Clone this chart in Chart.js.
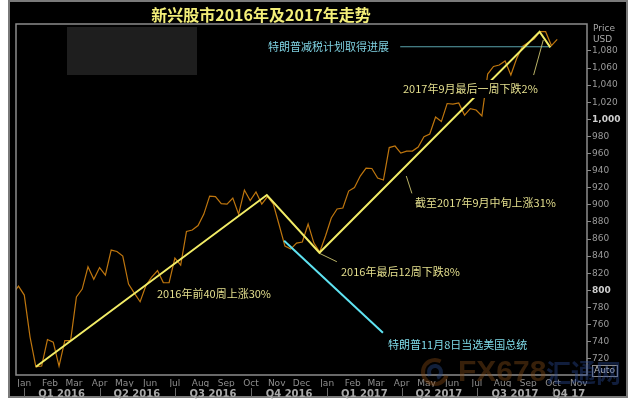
<!DOCTYPE html>
<html>
<head>
<meta charset="utf-8">
<script src="https://cdn.jsdelivr.net/npm/chart.js@4.4.1/dist/chart.umd.min.js"></script>
<style>
  html, body { margin: 0; padding: 0; background: #fff; }
  #wrap { width: 640px; height: 400px; }
</style>
</head>
<body>
<div id="wrap"><canvas id="chart" width="640" height="400"></canvas></div>
<script>
// weekly closes, first point = 2015-12-18 (day -14 from 2016-01-01)
const firstWeekDay = -14;
const price = [
  795.7, 805.0, 794.5, 745.4, 710.6, 711.5, 742.5, 739.5, 711.5, 741.3,
  741.3, 792.2, 801.5, 827.6, 812.9, 826.7, 817.9, 847.1, 845.4, 840.1,
  807.4, 796.8, 786.7, 805.6, 815.6, 823.2, 809.1, 808.9, 837.8, 829.6,
  868.8, 870.5, 875.8, 889.2, 910.3, 909.7, 901.5, 900.9, 908.0, 889.2,
  917.3, 905.0, 915.0, 900.9, 909.7, 900.9, 876.4, 851.8, 848.3, 855.3,
  856.5, 877.5, 855.3, 844.8, 863.5, 884.6, 895.1, 896.3, 916.1, 920.2,
  933.7, 943.0, 942.5, 931.3, 929.0, 967.0, 968.8, 960.6, 962.9, 962.9,
  967.6, 979.7, 982.8, 1002.7, 997.4, 1018.5, 1017.9, 1019.1, 1005.0, 1012.6,
  1010.9, 1003.9, 1053.0, 1061.8, 1063.5, 1068.2, 1051.8, 1071.1, 1085.2, 1089.8,
  1093.9, 1102.5, 1102.5, 1086.3, 1093.6
];

// trend lines (days since 2016-01-01, USD)
const trendDays = [14.1, 293.1, 356.7, 622.7, 635.7];
const trendVals = [710.6, 911.5, 844.0, 1102.5, 1084.2];
const leaderDays = [[356.7, 377.7], [461.6, 468.4], [615.5, 627.2]];
const leaderVals = [[843.3, 833.5], [933.7, 913.4], [1051.8, 1092.8]];
const taxDays = [454.3, 635.7];
const taxVals = [1084.9, 1084.9];
const electDays = [314.0, 433.4];
const electVals = [858.0, 750.4];

// axes
const monthDays = [0,31,60,91,121,152,182,213,244,274,305,335,366,397,425,456,486,517,547,578,609,639,670];
const monthLabels = ['Jan','Feb','Mar','Apr','May','Jun','Jul','Aug','Sep','Oct','Nov','Dec',
                     'Jan','Feb','Mar','Apr','May','Jun','Jul','Aug','Sep','Oct','Nov'];
const quarterMid = [45,136,228,320,411,501,593,658];
const quarterLabels = ['Q1 2016','Q2 2016','Q3 2016','Q4 2016','Q1 2017','Q2 2017','Q3 2017','Q4 17'];
const quarterBounds = [0,91,182,274,366,456,547,639];
const yTicks = [720,740,760,780,800,820,840,860,880,900,920,940,960,980,1000,1020,1040,1060,1080];

const title = '新兴股市2016年及2017年走势';
const notes = [
  {text:'2016年前40周上涨30%', x:157, y:294, color:'#e4df8e'},
  {text:'2016年最后12周下跌8%', x:341, y:272, color:'#e4df8e'},
  {text:'截至2017年9月中旬上涨31%', x:415, y:203, color:'#e4df8e'},
  {text:'2017年9月最后一周下跌2%', x:403, y:89, color:'#e4df8e'},
  {text:'特朗普减税计划取得进展', x:268, y:47, color:'#7fd3e3'},
  {text:'特朗普11月8日当选美国总统', x:388, y:345, color:'#7fdbe9'}
];

const pts = (xs, ys) => xs.map((x, i) => ({x: x, y: ys[i]}));
const priceData = price.map((v, i) => ({x: firstWeekDay + 7 * i, y: v}));

const CJK = '"Noto Sans CJK SC", "Noto Sans", sans-serif';
const isBold = v => v === 1000 || v === 800;

const frame = {
  id: 'frame',
  beforeDraw(chart) {
    const c = chart.ctx;
    c.save();
    c.fillStyle = '#fff';
    c.fillRect(0, 0, 640, 400);
    c.fillStyle = '#000';
    c.fillRect(9, 1, 618, 396);
    c.strokeStyle = '#7a7a7a';
    c.lineWidth = 2;
    c.strokeRect(9, 1, 618, 396);
    // title
    c.fillStyle = '#f3ee78';
    c.font = 'bold 16px ' + CJK;
    c.textAlign = 'center';
    c.textBaseline = 'middle';
    c.fillText(title, 261, 15);
    // blurred logo box
    c.fillStyle = '#1e1e1e';
    c.fillRect(67, 27, 130, 48);
    c.restore();
  },
  afterDatasetsDraw(chart) {
    const c = chart.ctx, a = chart.chartArea;
    c.save();
    c.font = '11px ' + CJK;
    c.textBaseline = 'middle';
    c.textAlign = 'left';
    notes.forEach(n => {
      const w = c.measureText(n.text).width;
      c.fillStyle = '#000';
      c.fillRect(n.x - 1, n.y - 9, w + 2, 18);
      c.fillStyle = n.color;
      c.fillText(n.text, n.x, n.y);
    });
    // plot frame
    c.strokeStyle = '#8c8c8c';
    c.lineWidth = 1.5;
    c.strokeRect(a.left, a.top, a.right - a.left, a.bottom - a.top);
    c.restore();
  },
  afterDraw(chart) {
    const c = chart.ctx;
    const xs = chart.scales.xq;
    c.save();
    // quarter separators
    c.strokeStyle = '#6a6a6a';
    c.lineWidth = 1;
    quarterBounds.forEach(d => {
      const px = Math.round(xs.getPixelForValue(d)) + 0.5;
      c.beginPath(); c.moveTo(px, 388); c.lineTo(px, 397); c.stroke();
    });
    // y axis header / footer
    c.fillStyle = '#a8a8a8';
    c.font = '9px "DejaVu Sans", sans-serif';
    c.textAlign = 'left';
    c.textBaseline = 'middle';
    c.fillText('Price', 593, 29);
    c.fillText('USD', 593, 40);
    c.strokeStyle = '#8a8a8a';
    c.strokeRect(592.5, 365.5, 25, 11);
    c.fillStyle = '#b8b8b8';
    c.fillText('Auto', 594, 371);
    // watermark
    c.globalAlpha = 0.4;
    c.lineWidth = 4;
    c.strokeStyle = '#8a4a14';
    c.beginPath(); c.arc(435, 372, 12, 0.3, 5.2); c.stroke();
    c.strokeStyle = '#2e4f94';
    c.beginPath(); c.arc(435, 372, 6, 2.5, 7.5); c.stroke();
    c.font = 'bold 30px "Liberation Sans", sans-serif';
    c.textBaseline = 'middle';
    c.fillStyle = '#8a4f18';
    c.fillText('FX678', 458, 373);
    c.fillStyle = '#2a4c98';
    c.font = 'bold 25px ' + CJK;
    c.fillText('汇通网', 546, 372);
    c.restore();
  }
};

new Chart(document.getElementById('chart'), {
  type: 'line',
  data: {
    datasets: [
      {data: priceData, borderColor: '#bf760e', borderWidth: 1.2, pointRadius: 0, tension: 0, order: 3},
      {data: pts(electDays, electVals), borderColor: '#5fe3f2', borderWidth: 2, pointRadius: 0, order: 2},
      {data: pts(taxDays, taxVals), borderColor: '#5aa3ad', borderWidth: 1.2, pointRadius: 0, order: 2},
      {data: pts(trendDays, trendVals), borderColor: '#f2ec66', borderWidth: 2, pointRadius: 0, order: 1},
      ...leaderDays.map((d, i) => ({data: pts(d, leaderVals[i]), borderColor: '#b9b266', borderWidth: 1, pointRadius: 0, order: 1}))
    ]
  },
  options: {
    responsive: false,
    animation: false,
    devicePixelRatio: 1,
    layout: {padding: {left: 16, top: 24, right: 0, bottom: 0}},
    plugins: {legend: {display: false}, tooltip: {enabled: false}},
    scales: {
      x: {
        type: 'linear', position: 'bottom', weight: 0, min: -10, max: 680,
        grid: {display: false, drawTicks: false}, border: {display: false},
        afterBuildTicks: s => { s.ticks = monthDays.map(v => ({value: v})); },
        afterFit: s => { s.height = 12; },
        ticks: {
          autoSkip: false, maxRotation: 0, padding: 3,
          color: '#8e8e8e', font: {size: 9, family: '"DejaVu Sans", sans-serif'},
          callback: v => monthLabels[monthDays.indexOf(v)]
        }
      },
      xq: {
        type: 'linear', position: 'bottom', weight: 1, min: -10, max: 680,
        grid: {display: false, drawTicks: false}, border: {display: false},
        afterBuildTicks: s => { s.ticks = quarterMid.map(v => ({value: v})); },
        afterFit: s => { s.height = 13; },
        ticks: {
          autoSkip: false, maxRotation: 0, padding: 1,
          color: '#a8a8a8', font: {size: 10, weight: 'bold', family: '"DejaVu Sans", sans-serif'},
          callback: v => quarterLabels[quarterMid.indexOf(v)]
        }
      },
      y: {
        position: 'right', min: 701, max: 1111.5,
        grid: {display: true, drawOnChartArea: false, drawTicks: true, tickLength: 4, color: '#8a8a8a'},
        border: {display: false},
        afterBuildTicks: s => { s.ticks = yTicks.map(v => ({value: v})); },
        afterFit: s => { s.width = 53; },
        ticks: {
          padding: 1,
          color: c => isBold(c.tick.value) ? '#cfcfcf' : '#9a9a9a',
          font: c => ({size: 9, family: '"DejaVu Sans", sans-serif', weight: (c.tick && isBold(c.tick.value)) ? 'bold' : 'normal'}),
          callback: v => v.toLocaleString('en-US')
        }
      }
    }
  },
  plugins: [frame]
});
</script>
</body>
</html>
